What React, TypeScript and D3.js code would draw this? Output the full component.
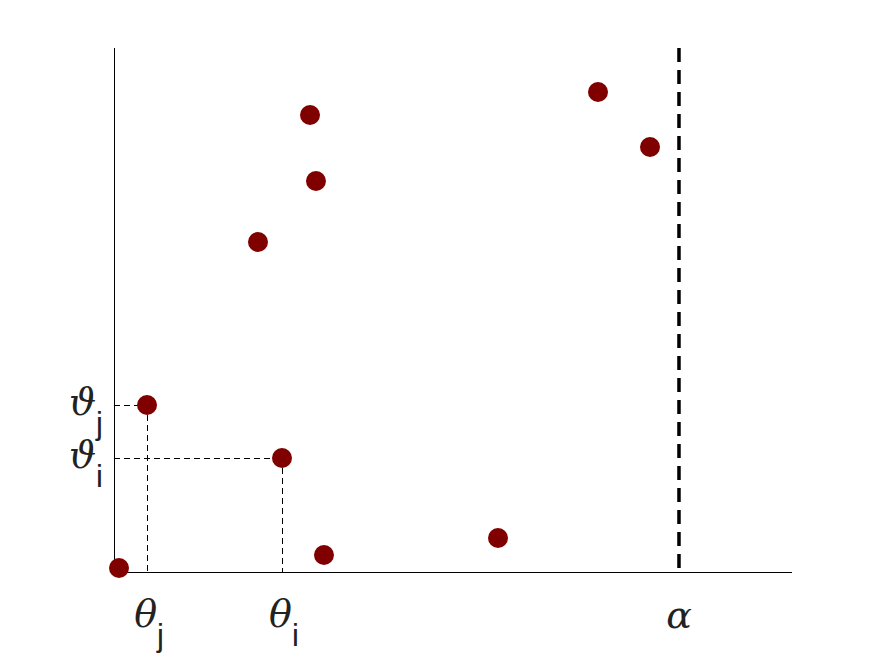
import React from 'react';
import * as d3 from 'd3';

// point positions (fractions of the axis range)
const xs = [0.0074, 0.0487, 0.2478, 0.3097, 0.2124, 0.2891, 0.2979, 0.5664, 0.7139, 0.7906];
const ys = [0.0076, 0.3187, 0.2176, 0.0324, 0.6298, 0.8721, 0.7462, 0.0649, 0.916, 0.8111];
// the two highlighted points: j, i
const marked = [1, 2];
const markNames = ['j', 'i'];
const alpha = 0.8333;

const W = 875, H = 656;
const margin = { left: 114, right: 83, top: 48, bottom: 84 };

export default function App() {
  const x = d3.scaleLinear().domain([0, 1]).range([margin.left, W - margin.right]);
  const y = d3.scaleLinear().domain([0, 1]).range([H - margin.bottom, margin.top]);
  const x0 = x(0), y0 = y(0);

  const mathFont = '"DejaVu Serif", serif';
  const subFont = '"Liberation Sans", Arial, sans-serif';

  return (
    <svg width={W} height={H} style={{ position: 'absolute', left: 0, top: 0, background: '#fff' }}>
      {/* guide lines to the marked points */}
      {marked.map((k) => (
        <g key={k} stroke="#000" strokeWidth={1} strokeDasharray="6,4" fill="none" shapeRendering="crispEdges">
          <line x1={Math.round(x(xs[k])) + 0.5} x2={Math.round(x(xs[k])) + 0.5} y1={y(ys[k])} y2={y0} />
          <line x1={x0} x2={x(xs[k])} y1={Math.round(y(ys[k])) + 0.5} y2={Math.round(y(ys[k])) + 0.5} />
        </g>
      ))}

      {/* axes */}
      <g stroke="#000" strokeWidth={1} shapeRendering="crispEdges">
        <line x1={x0} x2={x(1)} y1={y0 + 0.5} y2={y0 + 0.5} />
        <line x1={x0 + 0.5} x2={x0 + 0.5} y1={y0} y2={y(1)} />
      </g>

      {/* alpha threshold */}
      <line x1={x(alpha)} x2={x(alpha)} y1={y(1)} y2={y0} stroke="#000" strokeWidth={3.5} strokeDasharray="14,8" />

      {/* points */}
      {xs.map((v, k) => (
        <circle key={k} cx={x(v)} cy={y(ys[k])} r={10} fill="#800000" />
      ))}

      {/* x labels */}
      {marked.map((k, n) => (
        <text key={'x' + k} x={x(xs[k]) + 2} y={627} textAnchor="middle" fill="#222">
          <tspan fontFamily={mathFont} fontStyle="italic" fontSize={38}>θ</tspan>
          <tspan fontFamily={subFont} fontSize={31} dy={19}>{markNames[n]}</tspan>
        </text>
      ))}
      <text x={x(alpha)} y={628} textAnchor="middle" fontFamily={mathFont} fontStyle="italic" fontSize={38} fill="#222">α</text>

      {/* y labels */}
      {marked.map((k, n) => (
        <text key={'y' + k} x={103} y={y(ys[k]) + 10} textAnchor="end" fill="#222">
          <tspan fontFamily={mathFont} fontStyle="italic" fontSize={38}>ϑ</tspan>
          <tspan fontFamily={subFont} fontSize={31} dy={19}>{markNames[n]}</tspan>
        </text>
      ))}
    </svg>
  );
}
